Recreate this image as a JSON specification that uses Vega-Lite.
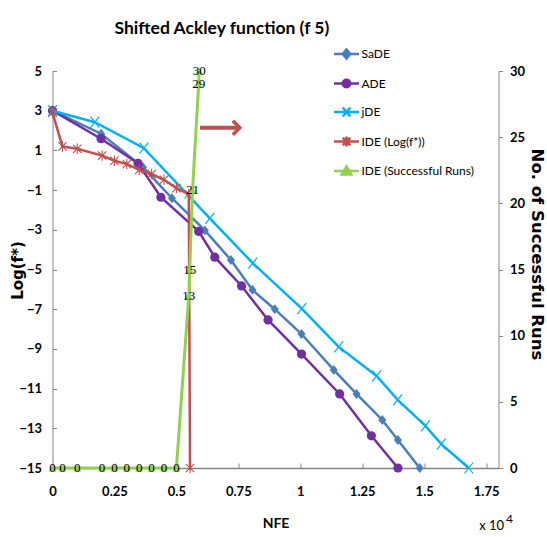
{
  "$schema": "https://vega.github.io/schema/vega-lite/v6.json",
  "width": 446,
  "height": 397,
  "autosize": {"type": "none"},
  "padding": {"left": 52.5, "top": 71, "right": 48.5, "bottom": 69},
  "background": "white",
  "title": {
    "text": "Shifted Ackley function (f 5)",
    "anchor": "start",
    "frame": "group",
    "dx": 62,
    "offset": 3,
    "font": "Lato",
    "fontSize": 17.5,
    "fontWeight": "bold",
    "color": "#000000"
  },
  "datasets": {
    "main": [
      {"series": "SaDE", "nfe": 0, "value": 3},
      {"series": "SaDE", "nfe": 0.196, "value": 1.84},
      {"series": "SaDE", "nfe": 0.365, "value": 0.15},
      {"series": "SaDE", "nfe": 0.482, "value": -1.41},
      {"series": "SaDE", "nfe": 0.615, "value": -3.03},
      {"series": "SaDE", "nfe": 0.72, "value": -4.52},
      {"series": "SaDE", "nfe": 0.807, "value": -6.03},
      {"series": "SaDE", "nfe": 0.897, "value": -7.0},
      {"series": "SaDE", "nfe": 1.005, "value": -8.25},
      {"series": "SaDE", "nfe": 1.135, "value": -10.06},
      {"series": "SaDE", "nfe": 1.227, "value": -11.27},
      {"series": "SaDE", "nfe": 1.331, "value": -12.58},
      {"series": "SaDE", "nfe": 1.394, "value": -13.59},
      {"series": "SaDE", "nfe": 1.482, "value": -15},
      {"series": "ADE", "nfe": 0, "value": 3},
      {"series": "ADE", "nfe": 0.196, "value": 1.59},
      {"series": "ADE", "nfe": 0.345, "value": 0.35},
      {"series": "ADE", "nfe": 0.4375, "value": -1.36},
      {"series": "ADE", "nfe": 0.59, "value": -3.08},
      {"series": "ADE", "nfe": 0.655, "value": -4.38},
      {"series": "ADE", "nfe": 0.763, "value": -5.83},
      {"series": "ADE", "nfe": 0.87, "value": -7.54},
      {"series": "ADE", "nfe": 1.005, "value": -9.26},
      {"series": "ADE", "nfe": 1.159, "value": -11.27},
      {"series": "ADE", "nfe": 1.287, "value": -13.38},
      {"series": "ADE", "nfe": 1.394, "value": -15},
      {"series": "jDE", "nfe": 0, "value": 3},
      {"series": "jDE", "nfe": 0.171, "value": 2.42},
      {"series": "jDE", "nfe": 0.369, "value": 1.11},
      {"series": "jDE", "nfe": 0.635, "value": -2.42},
      {"series": "jDE", "nfe": 0.808, "value": -4.68},
      {"series": "jDE", "nfe": 1.006, "value": -6.97},
      {"series": "jDE", "nfe": 1.155, "value": -8.9},
      {"series": "jDE", "nfe": 1.308, "value": -10.36},
      {"series": "jDE", "nfe": 1.393, "value": -11.57},
      {"series": "jDE", "nfe": 1.505, "value": -12.88},
      {"series": "jDE", "nfe": 1.569, "value": -13.8},
      {"series": "jDE", "nfe": 1.68, "value": -15},
      {"series": "IDE (Log(f*))", "nfe": 0, "value": 2.9},
      {"series": "IDE (Log(f*))", "nfe": 0.04, "value": 1.2},
      {"series": "IDE (Log(f*))", "nfe": 0.1, "value": 1.08},
      {"series": "IDE (Log(f*))", "nfe": 0.2, "value": 0.74},
      {"series": "IDE (Log(f*))", "nfe": 0.25, "value": 0.48},
      {"series": "IDE (Log(f*))", "nfe": 0.3, "value": 0.31},
      {"series": "IDE (Log(f*))", "nfe": 0.35, "value": 0.02},
      {"series": "IDE (Log(f*))", "nfe": 0.4, "value": -0.19},
      {"series": "IDE (Log(f*))", "nfe": 0.45, "value": -0.48},
      {"series": "IDE (Log(f*))", "nfe": 0.5, "value": -0.9},
      {"series": "IDE (Log(f*))", "nfe": 0.55, "value": -1.2},
      {"series": "IDE (Log(f*))", "nfe": 0.555, "value": -15},
      {"series": "IDE (Successful Runs)", "nfe": 0, "value": 0},
      {"series": "IDE (Successful Runs)", "nfe": 0.04, "value": 0},
      {"series": "IDE (Successful Runs)", "nfe": 0.1, "value": 0},
      {"series": "IDE (Successful Runs)", "nfe": 0.2, "value": 0},
      {"series": "IDE (Successful Runs)", "nfe": 0.25, "value": 0},
      {"series": "IDE (Successful Runs)", "nfe": 0.3, "value": 0},
      {"series": "IDE (Successful Runs)", "nfe": 0.35, "value": 0},
      {"series": "IDE (Successful Runs)", "nfe": 0.4, "value": 0},
      {"series": "IDE (Successful Runs)", "nfe": 0.45, "value": 0},
      {"series": "IDE (Successful Runs)", "nfe": 0.5, "value": 0},
      {"series": "IDE (Successful Runs)", "nfe": 0.55, "value": 13},
      {"series": "IDE (Successful Runs)", "nfe": 0.554, "value": 15},
      {"series": "IDE (Successful Runs)", "nfe": 0.565, "value": 21},
      {"series": "IDE (Successful Runs)", "nfe": 0.59, "value": 29},
      {"series": "IDE (Successful Runs)", "nfe": 0.592, "value": 30}
    ]
  },
  "data": {"name": "main"},
  "layer": [
    {
      "encoding": {
        "x": {
          "field": "nfe", "type": "quantitative", "title": "NFE",
          "scale": {"domain": [0, 1.8], "nice": false, "zero": false},
          "axis": {
            "values": [0, 0.25, 0.5, 0.75, 1, 1.25, 1.5, 1.75],
            "format": ".2~f", "labelFlush": false, "labelOverlap": false, "tickSize": -5, "labelPadding": 22,
            "titleX": 223, "titleY": 55, "titleAlign": "center", "titleBaseline": "middle",
            "titleFont": "Lato", "titleFontSize": 14, "titleFontWeight": "bold", "domainWidth": 1.5
          }
        },
        "y": {
          "field": "value", "type": "quantitative",
          "scale": {"domain": [-15, 5], "nice": false, "zero": false},
          "axis": {
            "orient": "left",
            "values": [-15, -13, -11, -9, -7, -5, -3, -1, 1, 3, 5],
            "labelOverlap": false,
            "tickSize": -4, "labelPadding": 15,
            "title": "Log(f*)", "titleFont": "DejaVu Sans", "titleFontSize": 15, "titleFontWeight": "bold",
            "titleAngle": -90, "titleX": -35.5, "titleY": 199, "titleAlign": "center", "titleBaseline": "middle"
          }
        }
      },
      "layer": [
        {
          "transform": [{"filter": {"field": "series", "equal": "SaDE"}}],
          "mark": {"type": "line", "color": "#4A7EBB", "strokeWidth": 2.5,
            "point": {"shape": "M0,-1.1L0.9,0L0,1.1L-0.9,0Z", "size": 80, "filled": true, "color": "#4A7EBB"}},
          "encoding": {}
        },
        {
          "transform": [{"filter": {"field": "series", "equal": "ADE"}}],
          "mark": {"type": "line", "color": "#7030A0", "strokeWidth": 2.5,
            "point": {"shape": "circle", "size": 85, "filled": true, "color": "#7030A0"}},
          "encoding": {}
        },
        {
          "transform": [{"filter": {"field": "series", "equal": "jDE"}}],
          "mark": {"type": "line", "color": "#00B0F0", "strokeWidth": 2.5,
            "point": {"shape": "M-0.8,-1L0.8,1M-0.8,1L0.8,-1", "size": 121, "filled": false, "strokeWidth": 1.2, "color": "#00B0F0"}},
          "encoding": {}
        },
        {
          "transform": [{"filter": {"field": "series", "equal": "IDE (Log(f*))"}}],
          "mark": {"type": "line", "color": "#C0504D", "strokeWidth": 2.5,
            "point": {"shape": "M-0.8,-0.8L0.8,0.8M-0.8,0.8L0.8,-0.8M0,-1V1", "size": 110, "filled": false, "strokeWidth": 1.1, "color": "#C0504D"}},
          "encoding": {}
        },
        {
          "transform": [{"filter": {"field": "series", "oneOf": ["SaDE", "ADE", "jDE", "IDE (Log(f*))"]}}],
          "mark": {"type": "point", "opacity": 0, "filled": true, "strokeWidth": 2.5},
          "encoding": {
            "fill": {
              "field": "series", "type": "nominal",
              "scale": {"domain": ["SaDE", "ADE", "jDE", "IDE (Log(f*))", "IDE (Successful Runs)"],
                        "range": ["#4A7EBB", "#7030A0", "#00B0F0", "#C0504D", "#92D050"]},
              "legend": {"orient": "none", "legendX": 280, "legendY": -31, "title": null, "symbolSize": 625, "symbolStrokeWidth": 2.5, "symbolOpacity": 1, "labelFont": "Lato", "labelFontSize": 12, "labelColor": "#000000", "rowPadding": 5.5, "labelOffset": 1, "padding": 0}
            },
            "stroke": {
              "field": "series", "type": "nominal",
              "scale": {"domain": ["SaDE", "ADE", "jDE", "IDE (Log(f*))", "IDE (Successful Runs)"],
                        "range": ["#4A7EBB", "#7030A0", "#00B0F0", "#C0504D", "#92D050"]},
              "legend": {"orient": "none", "legendX": 280, "legendY": -31, "title": null, "symbolSize": 625, "symbolStrokeWidth": 2.5, "symbolOpacity": 1, "labelFont": "Lato", "labelFontSize": 12, "labelColor": "#000000", "rowPadding": 5.5, "labelOffset": 1, "padding": 0}
            },
            "shape": {
              "field": "series", "type": "nominal",
              "scale": {"domain": ["SaDE", "ADE", "jDE", "IDE (Log(f*))", "IDE (Successful Runs)"],
                        "range": [
                          "M-1,0H1M0,-0.36L0.3,0L0,0.36L-0.3,0Z",
                          "M-1,0H1M0.3,0A0.3,0.3,0,1,1,-0.3,0A0.3,0.3,0,1,1,0.3,0Z",
                          "M-1,0H1M-0.3,-0.36L0.3,0.36M-0.3,0.36L0.3,-0.36",
                          "M-1,0H1M-0.3,-0.3L0.3,0.3M-0.3,0.3L0.3,-0.3M0,-0.4V0.4",
                          "M-1,0H1M0,-0.36L0.38,0.28L-0.38,0.28Z"
                        ]},
              "legend": {"orient": "none", "legendX": 280, "legendY": -31, "title": null, "symbolSize": 625, "symbolStrokeWidth": 2.5, "symbolOpacity": 1, "labelFont": "Lato", "labelFontSize": 12, "labelColor": "#000000", "rowPadding": 5.5, "labelOffset": 1, "padding": 0}
            }
          }
        }
      ]
    },
    {
      "transform": [{"filter": {"field": "series", "equal": "IDE (Successful Runs)"}}],
      "encoding": {
        "x": {"field": "nfe", "type": "quantitative", "title": "NFE"},
        "y": {
          "field": "value", "type": "quantitative",
          "scale": {"domain": [0, 30], "nice": false, "zero": false},
          "axis": {
            "orient": "right",
            "values": [0, 5, 10, 15, 20, 25, 30],
            "labelOverlap": false,
            "tickSize": 4, "labelPadding": 7,
            "title": "No. of Successful Runs", "titleFont": "DejaVu Sans", "titleFontSize": 16.5, "titleFontWeight": "bold",
            "titleAngle": 90, "titleX": 38, "titleY": 183, "titleAlign": "center", "titleBaseline": "middle"
          }
        }
      },
      "layer": [
        {
          "mark": {"type": "line", "color": "#92D050", "strokeWidth": 3,
            "point": {"shape": "triangle-up", "size": 64, "filled": true, "color": "#92D050"}},
          "encoding": {}
        },
        {
          "mark": {"type": "text", "align": "center", "baseline": "middle", "font": "Liberation Serif", "fontSize": 13, "color": "#000000"},
          "encoding": {
            "text": {"field": "value", "type": "quantitative"}
          }
        }
      ]
    },
    {
      "data": {"values": [{"k": 1}]},
      "layer": [
        {
          "mark": {"type": "rule", "color": "#C0504D", "strokeWidth": 4},
          "encoding": {
            "x": {"datum": 0.595, "type": "quantitative"},
            "x2": {"datum": 0.75},
            "y": {"datum": 2.14, "type": "quantitative", "scale": {"domain": [-15, 5], "nice": false, "zero": false}, "axis": null}
          }
        },
        {
          "mark": {"type": "point", "shape": "M-1,-1L0,0L-1,1", "size": 196, "filled": false, "strokeWidth": 3.5, "color": "#C0504D", "opacity": 1},
          "encoding": {
            "x": {"datum": 0.756, "type": "quantitative"},
            "y": {"datum": 2.14, "type": "quantitative"}
          }
        },
        {
          "mark": {"type": "text", "text": "x 10", "align": "left", "baseline": "alphabetic", "dy": 62, "font": "Lato", "fontSize": 13, "color": "#000000"},
          "encoding": {
            "x": {"datum": 1.722, "type": "quantitative"},
            "y": {"datum": -15, "type": "quantitative"}
          }
        },
        {
          "mark": {"type": "text", "text": "4", "align": "left", "baseline": "alphabetic", "dy": 55, "font": "Lato", "fontSize": 12, "color": "#000000"},
          "encoding": {
            "x": {"datum": 1.83, "type": "quantitative"},
            "y": {"datum": -15, "type": "quantitative"}
          }
        }
      ]
    }
  ],
  "resolve": {"scale": {"y": "independent"}},
  "config": {
    "view": {"stroke": null},
    "font": "Lato",
    "axis": {
      "grid": false,
      "labelOverlap": false,
      "domainColor": "#868686",
      "tickColor": "#868686",
      "labelFont": "Lato",
      "labelFontWeight": "bold",
      "labelFontSize": 13,
      "labelColor": "#000000",
      "titleColor": "#000000"
    }
  }
}
